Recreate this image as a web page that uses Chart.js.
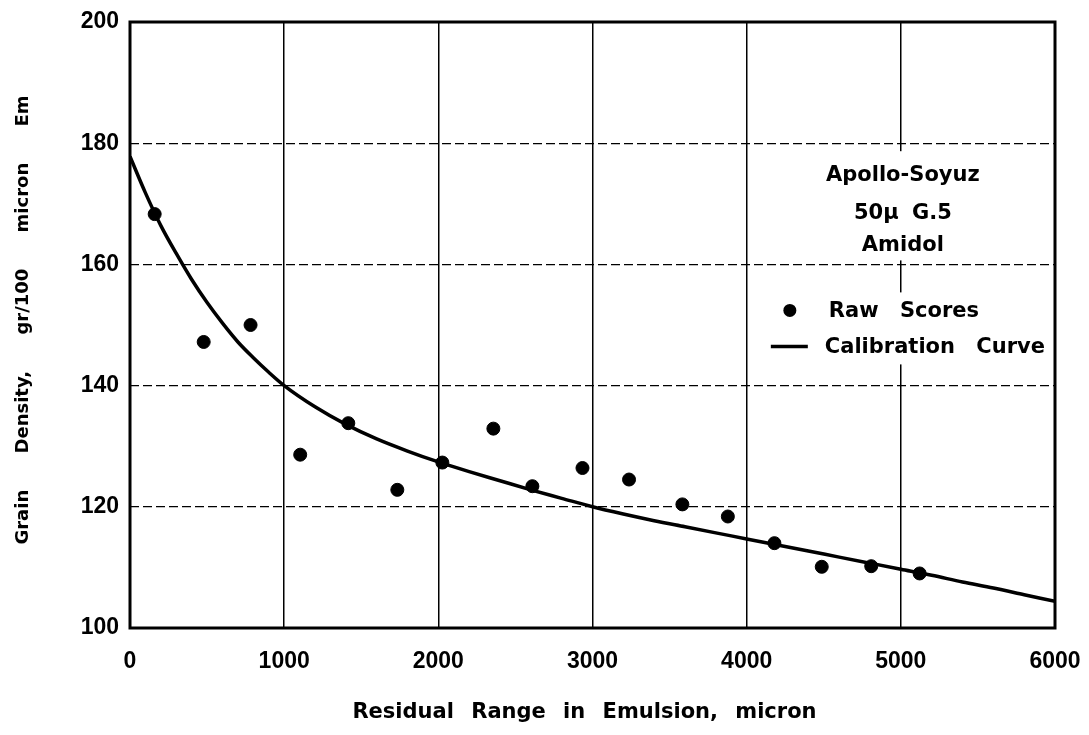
<!DOCTYPE html>
<html>
<head>
<meta charset="utf-8">
<script src="https://cdn.jsdelivr.net/npm/chart.js@4/dist/chart.umd.min.js"></script>
<style>
  html, body { margin: 0; padding: 0; background: #fff; }
  #wrap { width: 1089px; height: 735px; }
</style>
</head>
<body>
<div id="wrap"><canvas id="myChart" width="1089" height="735"></canvas></div>
<script>
// raw scores
const rawX = [160, 478, 782, 1104, 1416, 1734, 2026, 2357, 2610, 2935, 3237, 3583, 3878, 4180, 4487, 4808, 5122];
const rawY = [168.3, 147.2, 150, 128.6, 133.8, 122.8, 127.3, 132.9, 123.4, 126.4, 124.5, 120.4, 118.4, 114, 110.1, 110.2, 109];

// calibration curve
const curveX = [0, 100, 200, 300, 400, 500, 600, 700, 800, 900, 1000, 1200, 1400, 1600, 1800, 2000, 2200, 2400, 2600, 2800, 3000, 3200, 3400, 3600, 3800, 4000, 4200, 4400, 4600, 4800, 5000, 5200, 5400, 5600, 5800, 6000];
const curveY = [177.8, 171.8, 166.4, 161.8, 157.5, 153.7, 150.3, 147.2, 144.6, 142.2, 140, 136.5, 133.6, 131.2, 129.2, 127.4, 125.8, 124.3, 122.8, 121.4, 120, 118.8, 117.7, 116.7, 115.7, 114.7, 113.7, 112.7, 111.7, 110.7, 109.7, 108.7, 107.6, 106.6, 105.5, 104.4];

const xTicks = [0, 1000, 2000, 3000, 4000, 5000, 6000];
const yTicks = [100, 120, 140, 160, 180, 200];

const xTitle = "Residual Range in Emulsion, micron";
const yTitle = "Grain Density, gr/100 micron Em";
const infoLines = ["Apollo-Soyuz", "50\u03bc G.5", "Amidol"];

const FONT = "'Liberation Sans', Arial, sans-serif";
const TEXT_FONT = "'DejaVu Sans', sans-serif";

const toPoints = (xs, ys) => xs.map((x, i) => ({ x: x, y: ys[i] }));

// frame, axis titles and the inset legend
const framePlugin = {
    id: "frame",
    beforeDatasetsDraw(chart) {
        const { ctx, scales } = chart;
        const x5 = scales.x.getPixelForValue(5000);
        const y180 = scales.y.getPixelForValue(180);
        const y160 = scales.y.getPixelForValue(160);
        ctx.save();
        ctx.fillStyle = "#fff";
        ctx.fillRect(x5 - 80, y180 + 8, 160, y160 - y180 - 12);
        ctx.fillRect(x5 - 80, y160 + 28, 160, 72);
        ctx.restore();
    },
    afterDatasetsDraw(chart) {
        const { ctx, chartArea: a, scales } = chart;
        const x5 = scales.x.getPixelForValue(5000);
        const y180 = scales.y.getPixelForValue(180);
        const y160 = scales.y.getPixelForValue(160);
        const ds = chart.data.datasets;
        ctx.save();
        ctx.strokeStyle = "#000";
        ctx.lineWidth = 3;
        ctx.strokeRect(a.left, a.top, a.right - a.left, a.bottom - a.top);

        ctx.fillStyle = "#000";
        ctx.font = "bold 21px " + TEXT_FONT;
        ctx.wordSpacing = "6px";
        ctx.textAlign = "center";
        ctx.textBaseline = "middle";
        const infoY = [y180 + 32, y180 + 70, y180 + 102];
        infoLines.forEach((t, i) => ctx.fillText(t, x5 + 2, infoY[i]));

        ctx.textAlign = "left";
        ctx.wordSpacing = "14px";
        ctx.beginPath();
        ctx.arc(x5 - 111, y160 + 46, 6.5, 0, Math.PI * 2);
        ctx.fill();
        ctx.fillText(ds[0].label, x5 - 72, y160 + 47);
        ctx.lineWidth = 3.5;
        ctx.beginPath();
        ctx.moveTo(x5 - 130, y160 + 82);
        ctx.lineTo(x5 - 93, y160 + 82);
        ctx.stroke();
        ctx.fillText(ds[1].label, x5 - 76, y160 + 83);

        // axis titles
        ctx.font = "bold 21px " + TEXT_FONT;
        ctx.wordSpacing = "10px";
        ctx.textAlign = "center";
        ctx.fillText(xTitle, (a.left + a.right) / 2 - 8, 713);

        ctx.translate(23, (a.top + a.bottom) / 2 - 5);
        ctx.rotate(-Math.PI / 2);
        ctx.font = "bold 18px " + TEXT_FONT;
        ctx.wordSpacing = "30px";
        ctx.fillText(yTitle, 0, 0);
        ctx.restore();
    }
};

new Chart(document.getElementById("myChart"), {
    type: "scatter",
    data: {
        datasets: [
            {
                label: "Raw Scores",
                data: toPoints(rawX, rawY),
                backgroundColor: "#000",
                borderColor: "#000",
                pointRadius: 6.5,
                showLine: false,
                order: 1
            },
            {
                label: "Calibration Curve",
                data: toPoints(curveX, curveY),
                showLine: true,
                borderColor: "#000",
                borderWidth: 3.5,
                pointRadius: 0,
                tension: 0.4,
                cubicInterpolationMode: "monotone",
                order: 2
            }
        ]
    },
    options: {
        responsive: false,
        animation: false,
        layout: { padding: { top: 22, right: 34, left: 0, bottom: 0 } },
        plugins: {
            legend: { display: false },
            tooltip: { enabled: false }
        },
        scales: {
            x: {
                type: "linear",
                min: 0,
                max: 6000,
                afterBuildTicks: (s) => { s.ticks = xTicks.map(v => ({ value: v })); },
                afterFit: (s) => { s.height = 107; s.paddingLeft = 0; s.paddingRight = 0; },
                grid: { color: "#000", lineWidth: 1.5, drawTicks: false },
                border: { display: false },
                ticks: {
                    color: "#000",
                    padding: 20,
                    maxRotation: 0,
                    font: { family: FONT, size: 23, weight: "bold" },
                    callback: (v) => String(v)
                }
            },
            y: {
                type: "linear",
                min: 100,
                max: 200,
                afterBuildTicks: (s) => { s.ticks = yTicks.map(v => ({ value: v })); },
                afterFit: (s) => { s.width = 130; s.paddingTop = 0; s.paddingBottom = 0; },
                grid: { color: "#000", lineWidth: 1.3, drawTicks: false },
                border: { display: false, dash: [9, 4] },
                ticks: {
                    color: "#000",
                    padding: 11,
                    font: { family: FONT, size: 23, weight: "bold" }
                }
            }
        }
    },
    plugins: [framePlugin]
});
</script>
</body>
</html>
